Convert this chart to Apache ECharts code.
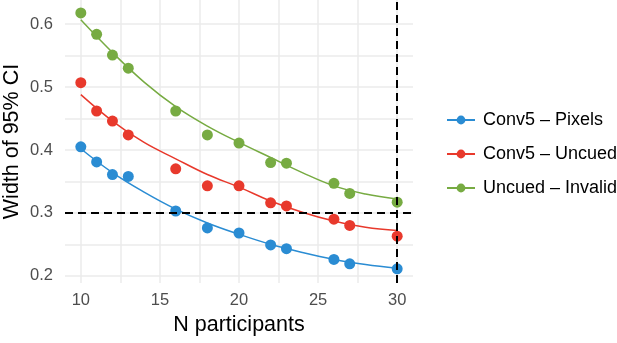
<!DOCTYPE html>
<html>
<head>
<meta charset="utf-8">
<script src="https://cdn.jsdelivr.net/npm/echarts@6/dist/echarts.min.js"></script>
<style>
  html, body { margin: 0; padding: 0; background: #fff; }
  #chart { width: 617px; height: 343px; }
</style>
</head>
<body>
<div id="chart"></div>
<script>
// observed points
const participants = [10, 11, 12, 13, 16, 18, 20, 22, 23, 26, 27, 30];
const pixelsWidth = [0.405, 0.381, 0.361, 0.358, 0.303, 0.276, 0.268, 0.249, 0.243, 0.226, 0.219, 0.211];
const uncuedWidth = [0.507, 0.462, 0.446, 0.424, 0.370, 0.343, 0.343, 0.316, 0.311, 0.290, 0.280, 0.263];
const invalidWidth = [0.618, 0.584, 0.551, 0.530, 0.462, 0.424, 0.411, 0.380, 0.379, 0.347, 0.331, 0.317];

// fitted curves
const fitX = [10, 12, 14, 16, 18, 20, 22, 24, 26, 28, 30];
const pixelsFit = [0.402, 0.364, 0.333, 0.306, 0.284, 0.266, 0.250, 0.237, 0.226, 0.218, 0.212];
const uncuedFit = [0.488, 0.446, 0.412, 0.386, 0.361, 0.341, 0.319, 0.301, 0.287, 0.277, 0.272];
const invalidFit = [0.607, 0.555, 0.508, 0.469, 0.438, 0.412, 0.388, 0.364, 0.343, 0.330, 0.322];

const seriesNames = ['Conv5 \u2013 Pixels', 'Conv5 \u2013 Uncued', 'Uncued \u2013 Invalid'];
const colors = ['#2a8cd3', '#e8392c', '#77ab42'];

const xLabels = [10, 15, 20, 25, 30];
const xGrid = [10, 12.5, 15, 17.5, 20, 22.5, 25, 27.5, 30];
const yLabels = [0.2, 0.3, 0.4, 0.5, 0.6];
const yGrid = [0.2, 0.25, 0.3, 0.35, 0.4, 0.45, 0.5, 0.55, 0.6];

const targetWidth = 0.3;
const targetN = 30;

const font = 'Liberation Sans, Arial, Helvetica, sans-serif';

const points = [pixelsWidth, uncuedWidth, invalidWidth];
const fits = [pixelsFit, uncuedFit, invalidFit];

const series = [];
fits.forEach((fit, i) => {
  series.push({
    name: seriesNames[i],
    type: 'line',
    data: fitX.map((x, j) => [x, fit[j]]),
    smooth: 0.4,
    symbol: 'circle',
    symbolSize: 10,
    showSymbol: false,
    itemStyle: { color: colors[i] },
    lineStyle: { color: colors[i], width: 1.5 },
    z: 2,
  });
});
points.forEach((vals, i) => {
  series.push({
    name: seriesNames[i],
    type: 'scatter',
    data: participants.map((x, j) => [x, vals[j]]),
    symbolSize: 11,
    itemStyle: { color: colors[i], opacity: 1 },
    z: 4,
  });
});
series.push({
  type: 'line',
  data: [],
  markLine: {
    silent: true,
    symbol: 'none',
    label: { show: false },
    lineStyle: { color: '#000', type: [8, 5], width: 2 },
    data: [{ yAxis: targetWidth }, { xAxis: targetN }],
  },
  z: 3,
});

const chart = echarts.init(document.getElementById('chart'));
chart.setOption({
  animation: false,
  backgroundColor: '#fff',
  grid: { left: 65, top: 0, width: 348, height: 283, outerBoundsMode: 'none', containLabel: false },
  legend: {
    orient: 'vertical',
    left: 441,
    top: 106,
    itemWidth: 28,
    itemHeight: 11,
    itemGap: 16,
    data: seriesNames,
    textStyle: { fontFamily: font, fontSize: 18, color: '#000', padding: [0, 0, 0, 3] },
  },
  xAxis: {
    type: 'value',
    min: 9,
    max: 31,
    name: 'N participants',
    nameLocation: 'middle',
    nameGap: 31,
    nameMoveOverlap: false,
    nameTextStyle: { fontFamily: font, fontSize: 21.5, color: '#000' },
    axisLine: { show: false },
    axisTick: { show: false, customValues: xGrid },
    axisLabel: {
      customValues: xLabels,
      margin: 9,
      fontFamily: font,
      fontSize: 16.5,
      color: '#4d4d4d',
    },
    splitLine: { show: true, lineStyle: { color: '#ebebeb', width: 1.5 } },
  },
  yAxis: {
    type: 'value',
    min: 0.1885,
    max: 0.6385,
    name: 'Width of 95% CI',
    nameLocation: 'middle',
    nameGap: 42,
    nameRotate: 90,
    nameMoveOverlap: false,
    nameTextStyle: { fontFamily: font, fontSize: 21.5, color: '#000' },
    axisLine: { show: false },
    axisTick: { show: false, customValues: yGrid },
    axisLabel: {
      customValues: yLabels,
      margin: 12,
      fontFamily: font,
      fontSize: 16.5,
      color: '#4d4d4d',
      formatter: (v) => v.toFixed(1),
    },
    splitLine: { show: true, lineStyle: { color: '#ebebeb', width: 1.5 } },
  },
  series: series,
});
</script>
</body>
</html>
